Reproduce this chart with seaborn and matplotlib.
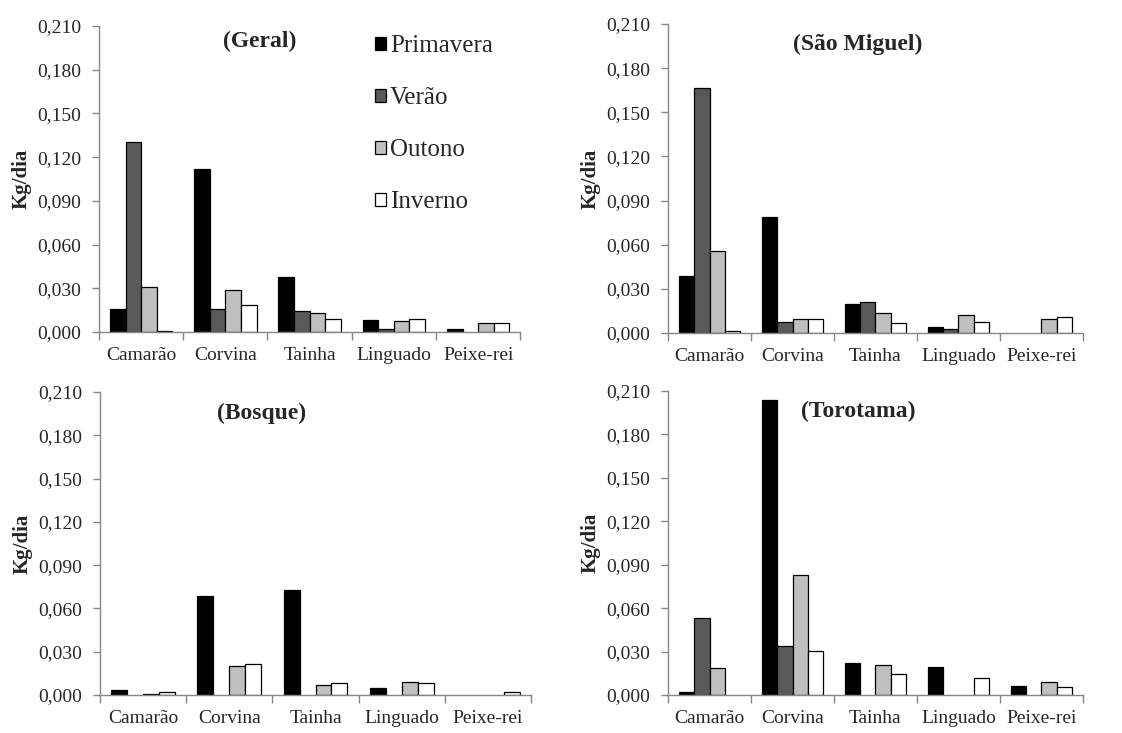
import pandas as pd
import matplotlib
matplotlib.use('Agg')
import matplotlib.pyplot as plt
import matplotlib.ticker as mticker
import seaborn as sns

especies = ['Camarão', 'Corvina', 'Tainha', 'Linguado', 'Peixe-rei']
estacoes = ['Primavera', 'Verão', 'Outono', 'Inverno']
cores = ['#000000', '#595959', '#bfbfbf', '#ffffff']

# Kg/dia por estação, na ordem das espécies
geral = {
    'Primavera': [0.016, 0.1116, 0.038, 0.008, 0.0018],
    'Verão':     [0.1304, 0.016, 0.0142, 0.0018, 0.0],
    'Outono':    [0.0309, 0.029, 0.0133, 0.0078, 0.0062],
    'Inverno':   [0.001, 0.0188, 0.0089, 0.0089, 0.0062],
}
sao_miguel = {
    'Primavera': [0.0386, 0.0785, 0.020, 0.0043, 0.0],
    'Verão':     [0.1662, 0.0077, 0.0209, 0.0025, 0.0],
    'Outono':    [0.0558, 0.0093, 0.0138, 0.0122, 0.0093],
    'Inverno':   [0.0016, 0.0093, 0.007, 0.0077, 0.0111],
}
bosque = {
    'Primavera': [0.0037, 0.0687, 0.0731, 0.0046, 0.0],
    'Verão':     [0.0, 0.0, 0.0, 0.0, 0.0],
    'Outono':    [0.0009, 0.0204, 0.0072, 0.009, 0.0],
    'Inverno':   [0.0018, 0.0213, 0.0081, 0.0081, 0.0018],
}
torotama = {
    'Primavera': [0.0018, 0.204, 0.0224, 0.0196, 0.0062],
    'Verão':     [0.053, 0.0337, 0.0, 0.0, 0.0],
    'Outono':    [0.0184, 0.0832, 0.0205, 0.0, 0.009],
    'Inverno':   [0.0, 0.0302, 0.0143, 0.0115, 0.0055],
}

paineis = [
    ('(Geral)', geral, [0.0882, 0.547, 0.3755, 0.4175], (0.381, 0.951)),
    ('(São Miguel)', sao_miguel, [0.5954, 0.5457, 0.3698, 0.4216], (0.458, 0.935)),
    ('(Bosque)', bosque, [0.0891, 0.0518, 0.3842, 0.4134], (0.374, 0.930)),
    ('(Torotama)', torotama, [0.5954, 0.0518, 0.3698, 0.4148], (0.458, 0.934)),
]

sns.set_style('white')
plt.rcParams['font.family'] = ['Liberation Serif', 'DejaVu Serif']

fig = plt.figure(figsize=(11.22, 7.33), dpi=100)
grey = '#868686'

for i, (titulo, dados, pos, tpos) in enumerate(paineis):
    ax = fig.add_axes(pos)
    df = pd.DataFrame(dados, index=especies).reset_index(names='especie')
    df = df.melt(id_vars='especie', var_name='estacao', value_name='kg')
    sns.barplot(data=df, x='especie', y='kg', hue='estacao', order=especies,
                hue_order=estacoes, palette=cores, width=0.74, errorbar=None,
                edgecolor='black', linewidth=0.9, saturation=1, ax=ax,
                legend=(i == 0))
    for p in ax.patches:
        if p.get_height() == 0:
            p.set_linewidth(0)

    ax.set_xlim(-0.5, len(especies) - 0.5)
    ax.set_ylim(0, 0.21)
    ax.set_yticks([0, 0.03, 0.06, 0.09, 0.12, 0.15, 0.18, 0.21])
    ax.yaxis.set_major_formatter(mticker.FuncFormatter(lambda v, _: f'{v:.3f}'.replace('.', ',')))
    ax.set_xticks([k - 0.5 for k in range(len(especies) + 1)])
    ax.set_xticklabels([])
    ax.set_xticks(range(len(especies)), minor=True)
    ax.set_xticklabels(especies, minor=True)
    ax.tick_params(axis='x', which='major', length=6, color=grey, width=1, direction='out', bottom=True)
    ax.tick_params(axis='x', which='minor', length=0, pad=11, labelsize=14)
    ax.tick_params(axis='y', length=5, color=grey, width=1, direction='out', left=True, pad=8, labelsize=14)

    for s in ['top', 'right']:
        ax.spines[s].set_visible(False)
    for s in ['left', 'bottom']:
        ax.spines[s].set_color(grey)
        ax.spines[s].set_linewidth(1)

    ax.set_xlabel('')
    ax.set_ylabel('Kg/dia', fontsize=15, fontweight='bold', labelpad=4)
    ax.text(tpos[0], tpos[1], titulo, transform=ax.transAxes, ha='center', va='center',
            fontsize=17, fontweight='bold')

    if i == 0:
        leg = ax.legend(loc='upper left', bbox_to_anchor=(0.625, 1.01), frameon=False,
                        fontsize=18, handlelength=0.45, handleheight=0.45,
                        handletextpad=0.15, labelspacing=1.2, borderpad=0)
        for h in leg.legend_handles:
            h.set_edgecolor('black')
            h.set_linewidth(0.9)

plt.savefig('out.png', dpi=100)
